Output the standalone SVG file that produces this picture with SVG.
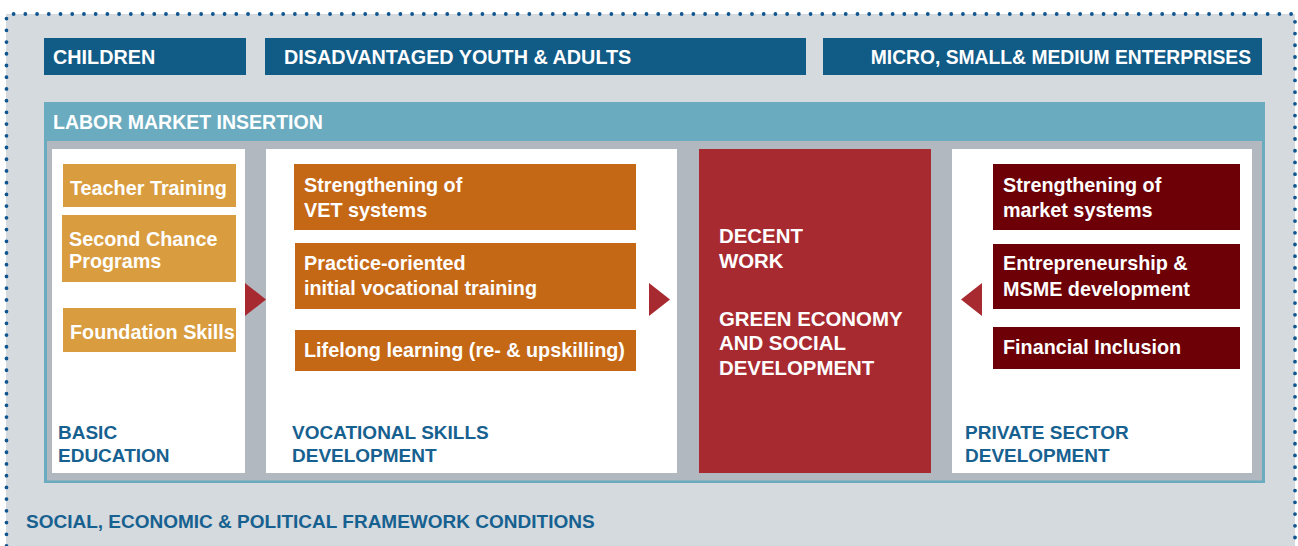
<svg xmlns="http://www.w3.org/2000/svg" width="1298" height="546" viewBox="0 0 1298 546">
<style>
text{font-family:"Liberation Sans",Arial,sans-serif;font-weight:bold;font-size:19.8px}
.w{fill:#ffffff}
.lbl{fill:#176190;font-size:19px}
.big{font-size:20.4px}
.hdr{fill:#115b87}
.lo{fill:#d99c3e}
.or{fill:#c56816}
.dr{fill:#6c0006}
.panel{fill:#ffffff}
.arrow{fill:#a72a31}
.dots{stroke:#0f5590;stroke-width:3.8;stroke-linecap:round;stroke-dasharray:0 11.72;fill:none}
</style>
<rect x="0" y="0" width="1298" height="546" fill="#ffffff"/>
<rect x="6" y="14" width="1289" height="532" fill="#d5dade"/>
<path class="dots" d="M6.5 546 L6.5 14 L1295 14 L1295 546"/>

<g id="children"><rect class="hdr" x="44" y="38" width="202" height="37"/><text class="w" x="53" y="63.5">CHILDREN</text></g>
<g id="youth"><rect class="hdr" x="265" y="38" width="541" height="37"/><text class="w" x="284" y="63.5">DISADVANTAGED YOUTH &amp; ADULTS</text></g>
<g id="msme"><rect class="hdr" x="823" y="38" width="439" height="37"/><text class="w" x="1251" y="63.5" text-anchor="end" style="font-size:19.3px">MICRO, SMALL&amp; MEDIUM ENTERPRISES</text></g>

<g id="labor-market">
<rect x="44" y="102" width="1221" height="381" fill="#6aabbf"/>
<rect x="47" y="141" width="1215" height="339.5" fill="#b2b8bf"/>
<text class="w" x="53" y="128.5" style="font-size:19.5px">LABOR MARKET INSERTION</text>
</g>

<g id="basic-education">
<rect class="panel" x="52" y="149" width="193" height="324"/>
<text class="lbl" x="58" y="439">BASIC</text>
<text class="lbl" x="58" y="462">EDUCATION</text>
</g>
<g id="teacher-training"><rect class="lo" x="63" y="164" width="173" height="43"/><text class="w" x="70" y="195">Teacher Training</text></g>
<g id="second-chance"><rect class="lo" x="62" y="215" width="174" height="67"/><text class="w" x="69" y="245.5">Second Chance</text><text class="w" x="69" y="267.5">Programs</text></g>
<g id="foundation-skills"><rect class="lo" x="63" y="308" width="173" height="44"/><text class="w" x="70" y="339">Foundation Skills</text></g>

<g id="vocational-skills">
<rect class="panel" x="266" y="149" width="411" height="324"/>
<text class="lbl" x="292" y="438.5">VOCATIONAL SKILLS</text>
<text class="lbl" x="292" y="461.5">DEVELOPMENT</text>
</g>
<g id="vet-systems"><rect class="or" x="294" y="164" width="342" height="66"/><text class="w" x="304" y="192">Strengthening of</text><text class="w" x="304" y="217">VET systems</text></g>
<g id="practice-oriented"><rect class="or" x="295" y="243" width="341" height="66"/><text class="w" x="304" y="270">Practice-oriented</text><text class="w" x="304" y="295">initial vocational training</text></g>
<g id="lifelong-learning"><rect class="or" x="295" y="330" width="341" height="41"/><text class="w" x="304" y="357">Lifelong learning (re- &amp; upskilling)</text></g>

<g id="decent-work">
<rect x="699" y="149" width="232" height="324" fill="#a72a31"/>
<text class="w big" x="719" y="243">DECENT</text>
<text class="w big" x="719" y="268">WORK</text>
<text class="w big" x="719" y="325.5">GREEN ECONOMY</text>
<text class="w big" x="719" y="350">AND SOCIAL</text>
<text class="w big" x="719" y="375">DEVELOPMENT</text>
</g>

<g id="private-sector">
<rect class="panel" x="952" y="149" width="300" height="324"/>
<text class="lbl" x="965" y="438.5">PRIVATE SECTOR</text>
<text class="lbl" x="965" y="461.5">DEVELOPMENT</text>
</g>
<g id="market-systems"><rect class="dr" x="993" y="164" width="247" height="66"/><text class="w" x="1003" y="192">Strengthening of</text><text class="w" x="1003" y="217">market systems</text></g>
<g id="entrepreneurship"><rect class="dr" x="993" y="244" width="247" height="65"/><text class="w" x="1003" y="270">Entrepreneurship &amp;</text><text class="w" x="1003" y="295.5">MSME development</text></g>
<g id="financial-inclusion"><rect class="dr" x="993" y="327" width="247" height="42"/><text class="w" x="1003" y="353.5">Financial Inclusion</text></g>

<g id="connectors">
<polygon class="arrow" points="245,283 266,299.5 245,316"/>
<polygon class="arrow" points="649,283 670,299.5 649,316"/>
<polygon class="arrow" points="982,283 961,299.5 982,316"/>
</g>

<g id="framework"><text class="lbl" x="26" y="528">SOCIAL, ECONOMIC &amp; POLITICAL FRAMEWORK CONDITIONS</text></g>
</svg>
